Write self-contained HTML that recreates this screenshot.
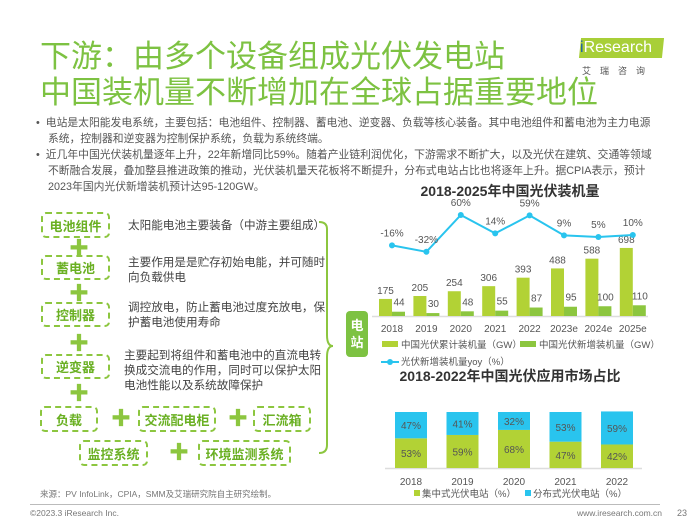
<!DOCTYPE html>
<html><head><meta charset="utf-8"><style>
body{margin:0;width:700px;height:525px;background:#fff;position:relative;overflow:hidden;font-family:"Liberation Sans","Noto Sans CJK SC",sans-serif;color:#555}
.a{position:absolute;white-space:nowrap}
.t{color:#7dc242;font-size:31px;line-height:34px;left:40px}
.bul{font-size:10.8px;line-height:16px;color:#555;left:36px;width:660px;white-space:normal}
.box{position:absolute;border:2px dashed #8cc63f;border-radius:5px;color:#6ab023;font-weight:bold;font-size:13px;display:flex;align-items:center;justify-content:center;box-sizing:border-box}
.pl{position:absolute;color:#8cc63f;font-size:20px;font-weight:bold;line-height:20px}
.d{position:absolute;font-size:11.6px;line-height:15px;color:#444;white-space:normal}
</style></head><body>
<div class="a t" style="top:40px">下游：由多个设备组成光伏发电站</div>
<div class="a t" style="top:76px">中国装机量不断增加在全球占据重要地位</div>
<div class="a" style="left:580px;top:38px;width:83px;height:20px;background:#a8cf38;transform:skewX(-6deg)"></div>
<div class="a" style="left:580px;top:38px;color:#fff;font-size:16px;line-height:20px"><span style="color:#1a5fa8">i</span>Research</div>
<div class="a" style="left:582px;top:64px;color:#555;font-size:9px;letter-spacing:9px">艾瑞咨询</div>

<div class="a bul" style="top:115px">•&nbsp; 电站是太阳能发电系统，主要包括：电池组件、控制器、蓄电池、逆变器、负载等核心装备。其中电池组件和蓄电池为主力电源<br>&nbsp;&nbsp;&nbsp; 系统，控制器和逆变器为控制保护系统，负载为系统终端。</div>
<div class="a bul" style="top:147px">•&nbsp; 近几年中国光伏装机量逐年上升，22年新增同比59%。随着产业链利润优化，下游需求不断扩大，以及光伏在建筑、交通等领域<br>&nbsp;&nbsp;&nbsp; 不断融合发展，叠加整县推进政策的推动，光伏装机量天花板将不断提升，分布式电站占比也将逐年上升。据CPIA表示，预计<br>&nbsp;&nbsp;&nbsp; 2023年国内光伏新增装机预计达95-120GW。</div>

<div class="box" style="left:41px;top:212px;width:69px;height:26px">电池组件</div>
<div class="pl" style="left:69px;top:239px">✚</div>
<div class="box" style="left:41px;top:255px;width:69px;height:25px">蓄电池</div>
<div class="pl" style="left:69px;top:284px">✚</div>
<div class="box" style="left:41px;top:302px;width:69px;height:25px">控制器</div>
<div class="pl" style="left:69px;top:334px">✚</div>
<div class="box" style="left:41px;top:354px;width:69px;height:25px">逆变器</div>
<div class="pl" style="left:69px;top:384px">✚</div>
<div class="box" style="left:40px;top:406px;width:58px;height:26px">负载</div>
<div class="pl" style="left:111px;top:409px">✚</div>
<div class="box" style="left:138px;top:406px;width:78px;height:26px">交流配电柜</div>
<div class="pl" style="left:228px;top:409px">✚</div>
<div class="box" style="left:253px;top:406px;width:58px;height:26px">汇流箱</div>
<div class="box" style="left:79px;top:440px;width:69px;height:26px">监控系统</div>
<div class="pl" style="left:169px;top:443px">✚</div>
<div class="box" style="left:198px;top:440px;width:93px;height:26px">环境监测系统</div>
<div class="d" style="left:128px;top:218px">太阳能电池主要装备（中游主要组成）</div>
<div class="d" style="left:128px;top:255px;width:202px">主要作用是是贮存初始电能，并可随时向负载供电</div>
<div class="d" style="left:128px;top:300px;width:202px">调控放电，防止蓄电池过度充放电，保护蓄电池使用寿命</div>
<div class="d" style="left:124px;top:348px;width:205px">主要起到将组件和蓄电池中的直流电转换成交流电的作用，同时可以保护太阳电池性能以及系统故障保护</div>
<svg class="a" style="left:315px;top:215px" width="20" height="245"><path d="M4 7 Q12 7 12 14 V120 Q12 131 18 131 Q12 131 12 142 V230 Q12 238 4 238" fill="none" stroke="#8cc63f" stroke-width="2"/></svg>
<div class="a" style="left:346px;top:311px;width:22px;height:46px;background:#7dc242;border-radius:4px;color:#fff;font-weight:bold;font-size:13px;line-height:17px;text-align:center;white-space:normal;padding-top:6px;box-sizing:border-box">电<br>站</div>

<svg class="a" style="left:0;top:0" width="700" height="525" id="ch">
<text x="510" y="196" text-anchor="middle" font-size="14" font-weight="bold" fill="#333">2018-2025年中国光伏装机量</text>
<text x="510" y="381" text-anchor="middle" font-size="14" font-weight="bold" fill="#333">2018-2022年中国光伏应用市场占比</text>
<g id="c1"></g><g id="c2"></g>
</svg>
<div class="a" style="left:40px;top:488px;font-size:8.5px;color:#777">来源：PV InfoLink，CPIA，SMM及艾瑞研究院自主研究绘制。</div>
<div class="a" style="left:30px;top:504px;width:630px;height:1px;background:#bbb"></div>
<div class="a" style="left:30px;top:508px;font-size:8.5px;color:#777">©2023.3 iResearch Inc.</div>
<div class="a" style="left:577px;top:508px;font-size:8.5px;color:#777">www.iresearch.com.cn</div>
<div class="a" style="left:677px;top:508px;font-size:9px;color:#777">23</div>
<script>
const years1=["2018","2019","2020","2021","2022","2023e","2024e","2025e"];
const cumulative=[175,205,254,306,393,488,588,698];
const added=[44,30,48,55,87,95,100,110];
const yoy=[-16,-32,60,14,59,9,5,10];
const years2=["2018","2019","2020","2021","2022"];
const centralized=[53,59,68,47,42];
const distributed=[47,41,32,53,59];
const NS="http://www.w3.org/2000/svg";
function mk(p,t,a,txt){const e=document.createElementNS(NS,t);for(const k in a)e.setAttribute(k,a[k]);if(txt!==undefined)e.textContent=txt;p.appendChild(e);return e;}
const c1=document.getElementById('c1');
const base1=316,gx=i=>392+i*34.4,hy=v=>base1-v*0.0975,ly=v=>215+(60-v)*0.4;
mk(c1,'line',{x1:372,x2:648,y1:base1+0.5,y2:base1+0.5,stroke:'#ddd','stroke-width':1.5});
years1.forEach((y,i)=>{
 let e=mk(c1,'rect',{x:gx(i)-13,y:hy(cumulative[i]),width:13,height:base1-hy(cumulative[i]),fill:'#b2d235'});
 
 e=mk(c1,'rect',{x:gx(i),y:hy(added[i]),width:13,height:base1-hy(added[i]),fill:'#8cc63f'});
 
 mk(c1,'text',{x:gx(i)-6.5,y:hy(cumulative[i])-5,'text-anchor':'middle','font-size':10,fill:'#555'},cumulative[i]);
 mk(c1,'text',{x:gx(i)+7,y:hy(added[i])-6,'text-anchor':'middle','font-size':10,fill:'#555'},added[i]);
 mk(c1,'text',{x:gx(i),y:332,'text-anchor':'middle','font-size':10,fill:'#555'},y);
});
const pts=yoy.map((v,i)=>gx(i)+','+ly(v)).join(' ');
let pl=mk(c1,'polyline',{points:pts,fill:'none',stroke:'#29c4ee','stroke-width':2});

yoy.forEach((v,i)=>{
 let c=mk(c1,'circle',{cx:gx(i),cy:ly(v),r:3,fill:'#29c4ee'});
 
 mk(c1,'text',{x:gx(i),y:ly(v)-9,'text-anchor':'middle','font-size':10,fill:'#555'},v+'%');
});
mk(c1,'rect',{x:382,y:341,width:16,height:6,fill:'#b2d235'});
mk(c1,'text',{x:401,y:348,'font-size':9.5,fill:'#555'},'中国光伏累计装机量（GW）');
mk(c1,'rect',{x:520,y:341,width:16,height:6,fill:'#8cc63f'});
mk(c1,'text',{x:539,y:348,'font-size':9.5,fill:'#555'},'中国光伏新增装机量（GW）');
mk(c1,'line',{x1:381,x2:399,y1:362,y2:362,stroke:'#29c4ee','stroke-width':2});
mk(c1,'circle',{cx:390,cy:362,r:3,fill:'#29c4ee'});
mk(c1,'text',{x:401,y:365,'font-size':9.5,fill:'#555'},'光伏新增装机量yoy（%）');
const c2=document.getElementById('c2');
const base2=468,bh=56,bx=i=>395+i*51.5;
mk(c2,'line',{x1:385,x2:642,y1:base2+0.5,y2:base2+0.5,stroke:'#ddd','stroke-width':1.5});
years2.forEach((y,i)=>{
 const hc=centralized[i]/100*bh,hd=distributed[i]/100*bh;
 let e=mk(c2,'rect',{x:bx(i),y:base2-hc,width:32,height:hc,fill:'#b2d235'});
 
 e=mk(c2,'rect',{x:bx(i),y:base2-hc-hd,width:32,height:hd,fill:'#29c4ee'});
 
 mk(c2,'text',{x:bx(i)+16,y:base2-hc/2+4,'text-anchor':'middle','font-size':10,fill:'#555'},centralized[i]+'%');
 mk(c2,'text',{x:bx(i)+16,y:base2-hc-hd/2+4,'text-anchor':'middle','font-size':10,fill:'#555'},distributed[i]+'%');
 mk(c2,'text',{x:bx(i)+16,y:485,'text-anchor':'middle','font-size':10,fill:'#555'},y);
});
mk(c2,'rect',{x:414,y:490,width:6,height:6,fill:'#b2d235'});
mk(c2,'text',{x:422,y:497,'font-size':9.5,fill:'#555'},'集中式光伏电站（%）');
mk(c2,'rect',{x:525,y:490,width:6,height:6,fill:'#29c4ee'});
mk(c2,'text',{x:533,y:497,'font-size':9.5,fill:'#555'},'分布式光伏电站（%）');
</script>
</body></html>
